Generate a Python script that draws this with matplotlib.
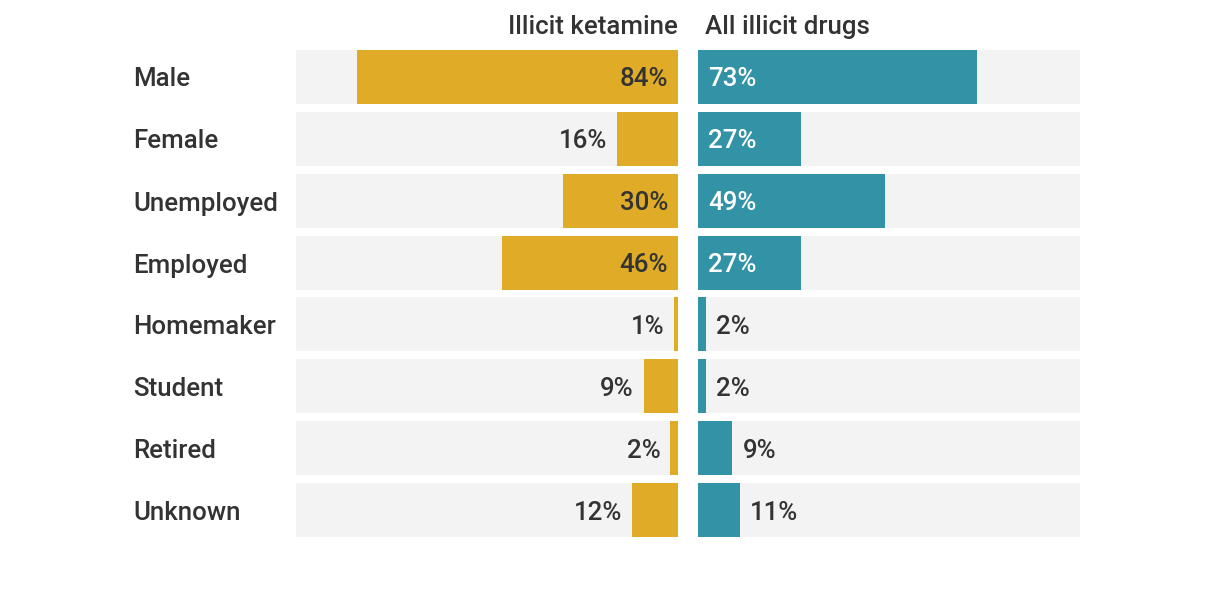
import matplotlib.pyplot as plt

plt.rcParams['font.family'] = ['Roboto', 'DejaVu Sans']

categories = ["Male", "Female", "Unemployed", "Employed", "Homemaker",
              "Student", "Retired", "Unknown"]
ketamine = [84, 16, 30, 46, 1, 9, 2, 12]
all_drugs = [73, 27, 49, 27, 2, 2, 9, 11]
titles = ["Illicit ketamine", "All illicit drugs"]

gold = "#E0AC27"
teal = "#3292A6"
bg = "#F3F3F3"
txt = "#333333"
fs = 18.6
fw = "medium"

W, H = 1220, 594
fig = plt.figure(figsize=(W / 100, H / 100), dpi=100)

ax_top = 46
ax_bot = 541
axL = fig.add_axes([296 / W, (H - ax_bot) / H, 382 / W, (ax_bot - ax_top) / H])
axR = fig.add_axes([698 / W, (H - ax_bot) / H, 382 / W, (ax_bot - ax_top) / H])

ypos = list(range(len(categories)))
h = 54 / 62
dy = 2.5 / 62  # nudge text down a bit

for ax, vals, col in [(axL, ketamine, gold), (axR, all_drugs, teal)]:
    ax.barh(ypos, [100] * len(vals), height=h, color=bg, linewidth=0)
    ax.barh(ypos, vals, height=h, color=col, linewidth=0)
    ax.set_xlim(0, 100)
    ax.set_ylim(len(categories) - 0.5, -0.5)
    ax.axis("off")

axL.invert_xaxis()

pad = 10 / 3.82  # px -> data units
for i, v in enumerate(ketamine):
    x = pad if v >= 20 else v + pad
    axL.text(x, i + dy, f"{v}%", ha="right", va="center", fontsize=fs,
             color=txt, fontweight=fw)

for i, v in enumerate(all_drugs):
    if v >= 20:
        axR.text(pad, i + dy, f"{v}%", ha="left", va="center", fontsize=fs,
                 color="white", fontweight=fw)
    else:
        axR.text(v + pad, i + dy, f"{v}%", ha="left", va="center", fontsize=fs,
                 color=txt, fontweight=fw)

for i, c in enumerate(categories):
    y = (H - (ax_top + 31 + 2.5 + 62 * i)) / H
    fig.text(133 / W, y, c, ha="left", va="center", fontsize=fs, color=txt,
             fontweight=fw)

fig.text(678 / W, (H - 27) / H, titles[0], ha="right", va="center", fontsize=fs,
         color=txt, fontweight=fw)
fig.text(705 / W, (H - 27) / H, titles[1], ha="left", va="center", fontsize=fs,
         color=txt, fontweight=fw)

fig.savefig("out.png", dpi=100, facecolor="white")
